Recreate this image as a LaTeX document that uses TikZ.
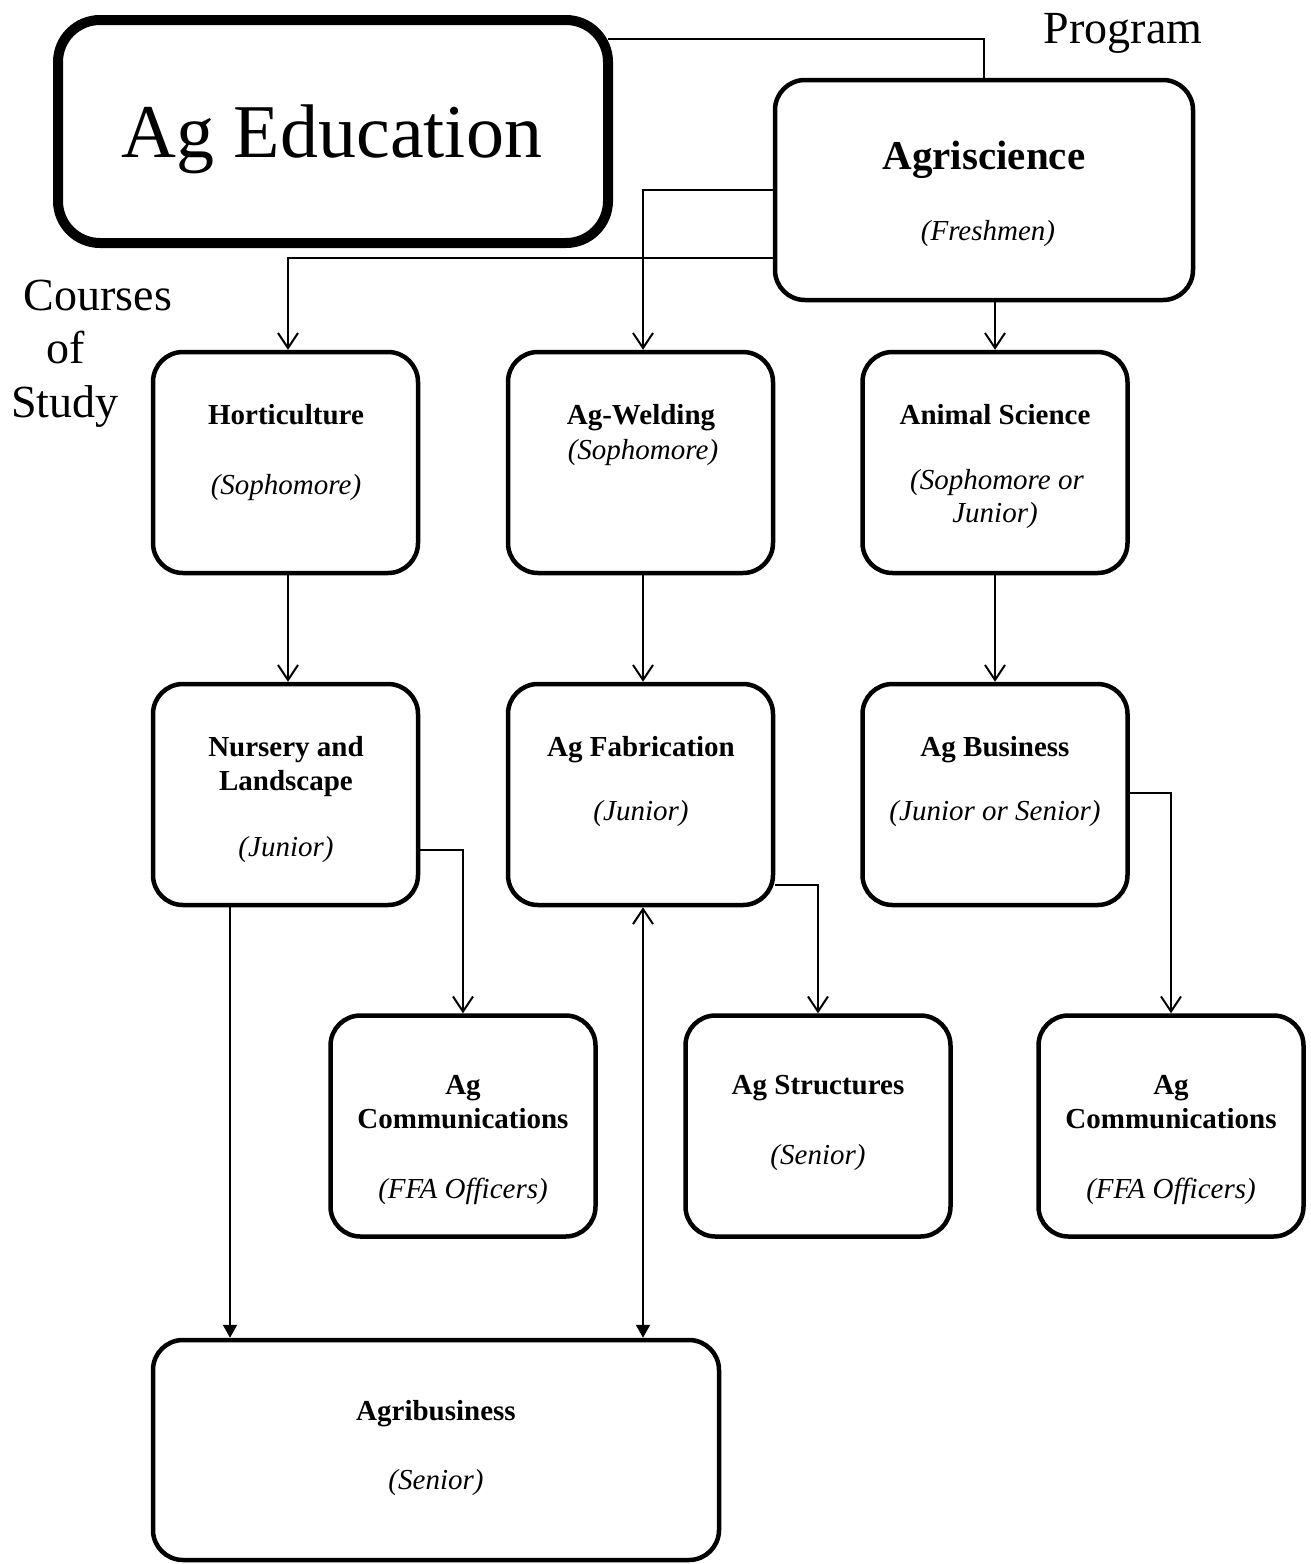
\documentclass[tikz,border=0pt]{standalone}
\usepackage{fontspec}
\setmainfont{Liberation Serif}
\usetikzlibrary{arrows.meta}
\begin{document}
\begin{tikzpicture}[x=1pt,y=-1pt,
  box/.style={draw,rounded corners=30pt,line width=4.5pt,minimum width=265pt,minimum height=221pt,inner sep=0pt},
  conn/.style={line width=2pt},
  openarr/.style={-{Straight Barb[length=15pt,width=20pt]}},
  fillarr/.style={-{Triangle[length=13pt,width=14pt]}},
  bt/.style={font=\fontsize{29}{34}\selectfont\bfseries,anchor=base,inner sep=0pt},
  itx/.style={font=\fontsize{29}{34}\selectfont\itshape,anchor=base,inner sep=0pt},
  lbl/.style={font=\fontsize{46}{50}\selectfont,anchor=base,inner sep=0pt}]
\useasboundingbox (0,0) rectangle (1310,1564);

% boxes
\node[box,line width=10pt,rounded corners=42pt,minimum width=550pt,minimum height=223pt] (edu) at (333,131.5) {};
\node[box,minimum width=418pt,minimum height=220pt] (agri) at (984,190) {};
\node[box] (hort) at (285.5,462.5) {};
\node[box] (weld) at (640.5,462.5) {};
\node[box] (anim) at (995,462.5) {};
\node[box] (nurs) at (285.5,794.5) {};
\node[box] (fab) at (640.5,794.5) {};
\node[box] (bus) at (995,794.5) {};
\node[box] (comm1) at (463,1126) {};
\node[box] (struct) at (818,1126) {};
\node[box] (comm2) at (1171,1126) {};
\node[box,minimum width=566pt,minimum height=220pt] (agrib) at (436,1450) {};

% texts
\node[anchor=base,inner sep=0pt,font=\fontsize{76}{80}\selectfont] (tedu) at (332,157) {Ag Education};
\node[anchor=base,inner sep=0pt,font=\fontsize{41}{46}\selectfont\bfseries] (tagri) at (984,169) {Agriscience};
\node[itx] (tagri2) at (988,240) {(Freshmen)};
\node[lbl] (tprog) at (1123,43) {Program};
\node[lbl] (tc1) at (98,310) {Courses};
\node[lbl] (tc2) at (66,363) {of};
\node[lbl] (tc3) at (65,417) {Study};

\node[bt] (th1) at (286,424) {Horticulture};
\node[itx] (th2) at (286,494) {(Sophomore)};
\node[bt] (tw1) at (641,424) {Ag-Welding};
\node[itx] (tw2) at (643,459) {(Sophomore)};
\node[bt] (ta1) at (995,424) {Animal Science};
\node[itx] (ta2) at (997,489) {(Sophomore or};
\node[itx] (ta3) at (995,522) {Junior)};
\node[bt] (tn1) at (286,756) {Nursery and};
\node[bt] (tn2) at (286,790) {Landscape};
\node[itx] (tn3) at (286,856) {(Junior)};
\node[bt] (tf1) at (641,756) {Ag Fabrication};
\node[itx] (tf2) at (641,820) {(Junior)};
\node[bt] (tb1) at (995,756) {Ag Business};
\node[itx] (tb2) at (995,820) {(Junior or Senior)};
\node[bt] (tc11) at (463,1094) {Ag};
\node[bt] (tc12) at (463,1128) {Communications};
\node[itx] (tc13) at (463,1198) {(FFA Officers)};
\node[bt] (ts1) at (818,1094) {Ag Structures};
\node[itx] (ts2) at (818,1164) {(Senior)};
\node[bt] (tc21) at (1171,1094) {Ag};
\node[bt] (tc22) at (1171,1128) {Communications};
\node[itx] (tc23) at (1171,1198) {(FFA Officers)};
\node[bt] (tg1) at (436,1420) {Agribusiness};
\node[itx] (tg2) at (436,1489) {(Senior)};

% connectors
\draw[conn] (edu.east |- 0,39) ++(-5,0) -| (agri.north);
\draw[conn,openarr] (agri.west) -| (weld.north -| 643,0);
\draw[conn,openarr] (agri.west |- 0,258) -| (hort.north -| 288,0);
\draw[conn,openarr] (anim.north |- agri.south) -- (anim.north);
\draw[conn,openarr] (hort.south -| 288,0) -- (nurs.north -| 288,0);
\draw[conn,openarr] (weld.south -| 643,0) -- (fab.north -| 643,0);
\draw[conn,openarr] (anim.south) -- (bus.north);
\draw[conn,openarr] (nurs.east |- 0,850) -| (comm1.north);
\draw[conn,openarr] (fab.east |- 0,885) -| (struct.north);
\draw[conn,openarr] (bus.east |- 0,793) -| (comm2.north);
\draw[conn,fillarr] (nurs.south -| 230,0) -- (agrib.north -| 230,0);
\draw[conn,{Straight Barb[length=15pt,width=20pt]}-{Triangle[length=13pt,width=14pt]}] (fab.south -| 643,0) -- (agrib.north -| 643,0);
\end{tikzpicture}
\end{document}
